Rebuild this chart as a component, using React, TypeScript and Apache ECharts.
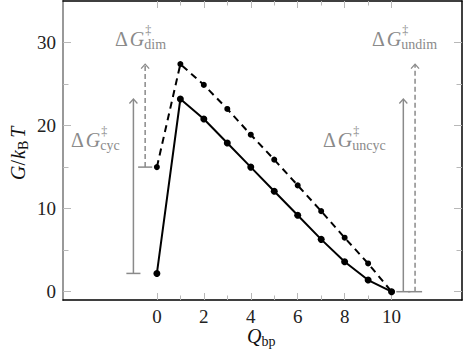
import React, { useEffect, useRef } from "react";
import * as echarts from "echarts";

// ---- data ----
const qbp = [0, 1, 2, 3, 4, 5, 6, 7, 8, 9, 10];
const gCyc = [2.2, 23.2, 20.8, 17.9, 15.0, 12.1, 9.2, 6.3, 3.6, 1.4, 0];
const gDim = [15.0, 27.4, 24.9, 22.0, 18.9, 15.9, 12.8, 9.7, 6.5, 3.4, 0];

const xMajorTicks = [0, 2, 4, 6, 8, 10];
const xMinorTicks = [1, 3, 5, 7, 9];
const yMajorTicks = [0, 10, 20, 30];
const yMinorTicks = [5, 15, 25];

// barrier arrows: x position, start value, end value, dashed flag
const arrowX = [-1, -0.5, 10.5, 11];
const arrowFrom = [2.2, 15, 0, 0];
const arrowTo = [23.2, 27.4, 23.2, 27.4];
const arrowDashed = [0, 1, 0, 1];

const FONT = "'Liberation Serif', 'DejaVu Serif', serif";
const GRAY = "#8a8a8a";
const TICK = "#b8b8b8";

let ctx: CanvasRenderingContext2D | null = null;
function measure(t: string, size: number, italic: boolean) {
  if (!ctx) ctx = document.createElement("canvas").getContext("2d");
  if (!ctx) return t.length * size * 0.5;
  ctx.font = `${italic ? "italic " : ""}${size}px ${FONT}`;
  return ctx.measureText(t).width;
}

type Part = { t: string; size: number; italic?: boolean; dy?: number; dx?: number; noAdvance?: boolean };

function mathParts(parts: Part[], color: string) {
  let x = 0;
  const out: any[] = [];
  for (const p of parts) {
    out.push({
      type: "text",
      x: x + (p.dx || 0),
      y: p.dy || 0,
      style: {
        text: p.t,
        fontSize: p.size,
        fontFamily: FONT,
        fontStyle: p.italic ? "italic" : "normal",
        fill: color,
        align: "left",
        verticalAlign: "middle",
      },
    });
    if (!p.noAdvance) x += measure(p.t, p.size, !!p.italic) + (p.dx || 0);
  }
  return out;
}

function deltaG(sub: string) {
  return mathParts(
    [
      { t: "Δ", size: 20 },
      { t: "G", size: 20, italic: true, dx: 2 },
      { t: "‡", size: 12, dy: -9, dx: 1, noAdvance: true },
      { t: sub, size: 14, dy: 5 },
    ],
    GRAY
  );
}

export default function App() {
  const ref = useRef<HTMLDivElement>(null);
  useEffect(() => {
    if (!ref.current) return;
    const chart = echarts.init(ref.current, undefined, { renderer: "svg" });

    const xBase = { type: "value", min: -4, max: 13, splitLine: { show: false } };
    const yBase = { type: "value", min: -1, max: 35, splitLine: { show: false } };
    const labelStyle = { fontFamily: FONT, fontSize: 19, color: "#222" };

    const option: any = {
      animation: false,
      grid: { left: 63, right: 2, top: 1, bottom: 57, containLabel: false },
      xAxis: [
        {
          ...xBase,
          position: "bottom",
          axisLine: { onZero: false, lineStyle: { color: "#000", width: 1.5 } },
          axisTick: { inside: true, length: 7, customValues: xMajorTicks, lineStyle: { color: TICK } },
          axisLabel: { customValues: xMajorTicks, margin: 7, ...labelStyle },
        },
        {
          ...xBase,
          position: "bottom",
          axisLine: { show: false, onZero: false },
          axisTick: { inside: true, length: 4.5, customValues: xMinorTicks, lineStyle: { color: TICK } },
          axisLabel: { show: false },
        },
        {
          ...xBase,
          position: "top",
          axisLine: { onZero: false, lineStyle: { color: "#000", width: 1.5 } },
          axisTick: { inside: true, length: 7, customValues: xMajorTicks, lineStyle: { color: TICK } },
          axisLabel: { show: false },
        },
        {
          ...xBase,
          position: "top",
          axisLine: { show: false, onZero: false },
          axisTick: { inside: true, length: 4.5, customValues: xMinorTicks, lineStyle: { color: TICK } },
          axisLabel: { show: false },
        },
      ],
      yAxis: [
        {
          ...yBase,
          position: "left",
          axisLine: { show: true, onZero: false, lineStyle: { color: "#999", width: 2 } },
          axisTick: { show: true, inside: true, length: 8, customValues: yMajorTicks, lineStyle: { color: TICK } },
          axisLabel: { customValues: yMajorTicks, margin: 7, ...labelStyle },
        },
        {
          ...yBase,
          position: "left",
          axisLine: { show: false, onZero: false },
          axisTick: { show: true, inside: true, length: 5.5, customValues: yMinorTicks, lineStyle: { color: TICK } },
          axisLabel: { show: false },
        },
        {
          ...yBase,
          position: "right",
          axisLine: { show: true, onZero: false, lineStyle: { color: "#000", width: 1.5 } },
          axisTick: { show: true, inside: true, length: 8, customValues: yMajorTicks, lineStyle: { color: TICK } },
          axisLabel: { show: false },
        },
        {
          ...yBase,
          position: "right",
          axisLine: { show: false, onZero: false },
          axisTick: { show: true, inside: true, length: 5.5, customValues: yMinorTicks, lineStyle: { color: TICK } },
          axisLabel: { show: false },
        },
      ],
      series: [
        {
          type: "custom",
          xAxisIndex: 0,
          yAxisIndex: 0,
          data: arrowX.map((x, i) => [x, arrowFrom[i], arrowTo[i], arrowDashed[i]]),
          encode: { x: 0, y: [1, 2] },
          renderItem: (params: any, api: any) => {
            const x = api.value(0);
            const y0 = api.value(1);
            const y1 = api.value(2);
            const dashed = api.value(3) === 1;
            const p0 = api.coord([x, y0]);
            const p1 = api.coord([x, y1]);
            const cl = api.coord([x - 0.3, y0]);
            const cr = api.coord([x + 0.3, y0]);
            return {
              type: "group",
              children: [
                {
                  type: "line",
                  shape: { x1: p0[0], y1: p0[1], x2: p1[0], y2: p1[1] + 1 },
                  style: { stroke: GRAY, lineWidth: 1.5, lineDash: dashed ? [5, 3] : null },
                },
                {
                  type: "line",
                  shape: { x1: cl[0], y1: cl[1], x2: cr[0], y2: cr[1] },
                  style: { stroke: GRAY, lineWidth: 1.5 },
                },
                {
                  type: "polyline",
                  shape: {
                    points: [
                      [p1[0] - 4, p1[1] + 4.5],
                      [p1[0], p1[1]],
                      [p1[0] + 4, p1[1] + 4.5],
                    ],
                  },
                  style: { stroke: GRAY, lineWidth: 1.3, fill: "none" },
                },
              ],
            };
          },
          z: 1,
        },
        {
          type: "line",
          xAxisIndex: 0,
          yAxisIndex: 0,
          data: qbp.map((q, i) => [q, gDim[i]]),
          symbol: "circle",
          symbolSize: 6,
          itemStyle: { color: "#000" },
          lineStyle: { color: "#000", width: 2, type: [7, 5] },
          z: 3,
        },
        {
          type: "line",
          xAxisIndex: 0,
          yAxisIndex: 0,
          data: qbp.map((q, i) => [q, gCyc[i]]),
          symbol: "circle",
          symbolSize: 7,
          itemStyle: { color: "#000" },
          lineStyle: { color: "#000", width: 2 },
          z: 4,
        },
      ],
      graphic: [
        { type: "group", x: 115, y: 39, children: deltaG("dim") },
        { type: "group", x: 71, y: 140, children: deltaG("cyc") },
        { type: "group", x: 323, y: 140, children: deltaG("uncyc") },
        { type: "group", x: 372, y: 39, children: deltaG("undim") },
        {
          type: "group",
          x: 247,
          y: 336,
          children: mathParts(
            [
              { t: "Q", size: 20, italic: true },
              { t: "bp", size: 14, dy: 5 },
            ],
            "#111"
          ),
        },
        {
          type: "group",
          x: 18,
          y: 180,
          rotation: Math.PI / 2,
          children: mathParts(
            [
              { t: "G", size: 20, italic: true },
              { t: "/", size: 20 },
              { t: "k", size: 20, italic: true, dx: 1 },
              { t: "B", size: 14, dy: 5 },
              { t: "T", size: 20, italic: true, dx: 3 },
            ],
            "#111"
          ),
        },
      ],
    };
    chart.setOption(option);
    return () => chart.dispose();
  }, []);
  return (
    <div
      ref={ref}
      style={{ position: "fixed", left: 0, top: 0, width: 464, height: 357, background: "#fff" }}
    />
  );
}
